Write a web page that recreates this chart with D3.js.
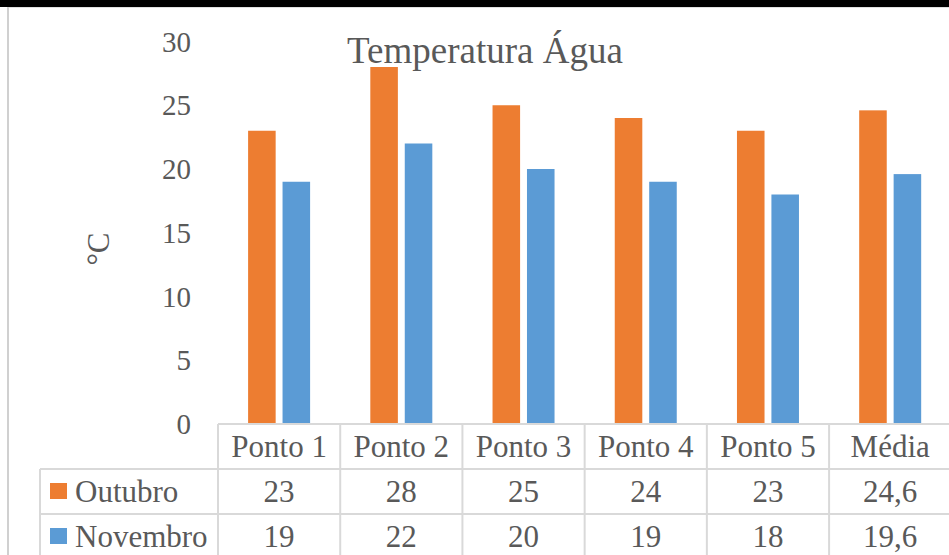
<!DOCTYPE html>
<html>
<head>
<meta charset="utf-8">
<script src="https://cdn.jsdelivr.net/npm/d3@7"></script>
<style>
  body { margin: 0; background: #fff; }
  svg text { font-family: "Liberation Serif", "DejaVu Serif", serif; fill: #595959; }
</style>
</head>
<body>
<div id="chart"></div>
<script>
// Temperatura Água - grouped bars with data table
const categories = ["Ponto 1", "Ponto 2", "Ponto 3", "Ponto 4", "Ponto 5", "Média"];
const seriesNames = ["Outubro", "Novembro"];
const outubro = [23, 28, 25, 24, 23, 24.6];
const novembro = [19, 22, 20, 19, 18, 19.6];
const yTicks = [0, 5, 10, 15, 20, 25, 30];
const colors = ["#ED7D31", "#5B9BD5"];

const width = 949;
const height = 555;
const plotLeft = 218, plotRight = 951.3;
const plotTop = 41.5, plotBottom = 424;
const legendLeft = 40;
const rowH = 45;
const gridColor = "#d9d9d9";

const svg = d3.select("#chart").append("svg")
    .attr("width", width)
    .attr("height", height);

// frame bits from the screenshot
svg.append("rect").attr("x", 0).attr("y", 0).attr("width", width).attr("height", 7).attr("fill", "#000");
svg.append("line").attr("x1", 8).attr("x2", width).attr("y1", 7.5).attr("y2", 7.5)
    .attr("stroke", "#e0e0e0").attr("stroke-width", 1);
svg.append("line").attr("x1", 8).attr("x2", 8).attr("y1", 7).attr("y2", height)
    .attr("stroke", "#d0d0d0").attr("stroke-width", 2);

const x0 = d3.scaleBand()
    .domain(categories)
    .range([plotLeft, plotRight])
    .padding(0);

const x1 = d3.scaleBand()
    .domain(seriesNames)
    .range([30.1, 92.1])
    .paddingInner(0.2);

const y = d3.scaleLinear()
    .domain([0, 30])
    .range([plotBottom, plotTop]);

// y axis labels
svg.append("g")
    .attr("class", "y-axis")
    .selectAll("text")
    .data(yTicks)
    .join("text")
    .attr("x", 191)
    .attr("y", d => y(d) + 10)
    .attr("text-anchor", "end")
    .style("font-size", "29px")
    .text(d => d);

svg.append("text")
    .attr("transform", "translate(109,249) rotate(-90)")
    .attr("text-anchor", "middle")
    .style("font-size", "31px")
    .text("°C");

svg.append("text")
    .attr("x", 485)
    .attr("y", 63)
    .attr("text-anchor", "middle")
    .style("font-size", "37px")
    .text("Temperatura Água");

// bars
const seriesData = [outubro, novembro];
const groups = svg.append("g").attr("class", "bars")
    .selectAll("g")
    .data(categories)
    .join("g")
    .attr("transform", d => `translate(${x0(d)},0)`);

groups.selectAll("rect")
    .data((c, i) => seriesNames.map((s, j) => ({ s, j, v: seriesData[j][i] })))
    .join("rect")
    .attr("x", d => x1(d.s))
    .attr("y", d => y(d.v))
    .attr("width", x1.bandwidth())
    .attr("height", d => plotBottom - y(d.v))
    .attr("fill", d => colors[d.j]);

// data table
const table = svg.append("g").attr("class", "table")
    .attr("stroke", gridColor)
    .attr("stroke-width", 2);

table.append("line")
    .attr("x1", plotLeft).attr("x2", width)
    .attr("y1", plotBottom).attr("y2", plotBottom);
[1, 2].forEach(r => {
    table.append("line")
        .attr("x1", legendLeft).attr("x2", width)
        .attr("y1", plotBottom + r * rowH).attr("y2", plotBottom + r * rowH);
});
table.append("line")
    .attr("x1", legendLeft).attr("x2", legendLeft)
    .attr("y1", plotBottom + rowH).attr("y2", height);
table.selectAll("line.col")
    .data(categories)
    .join("line")
    .attr("class", "col")
    .attr("x1", d => x0(d)).attr("x2", d => x0(d))
    .attr("y1", plotBottom).attr("y2", height);

const cellFont = "31px";

svg.append("g")
    .selectAll("text")
    .data(categories)
    .join("text")
    .attr("x", d => x0(d) + x0.bandwidth() / 2)
    .attr("y", plotBottom + rowH / 2 + 10)
    .attr("text-anchor", "middle")
    .style("font-size", cellFont)
    .text(d => d);

const fmt = v => String(v).replace(".", ",");

seriesNames.forEach((s, j) => {
    const rowY = plotBottom + (j + 1) * rowH;
    svg.append("rect")
        .attr("x", 50).attr("y", rowY + 14)
        .attr("width", 17).attr("height", 16)
        .attr("fill", colors[j]);
    svg.append("text")
        .attr("x", 75)
        .attr("y", rowY + rowH / 2 + 10)
        .style("font-size", cellFont)
        .text(s);
    svg.append("g")
        .selectAll("text")
        .data(seriesData[j])
        .join("text")
        .attr("x", (d, i) => x0(categories[i]) + x0.bandwidth() / 2)
        .attr("y", rowY + rowH / 2 + 10)
        .attr("text-anchor", "middle")
        .style("font-size", cellFont)
        .text(d => fmt(d));
});
</script>
</body>
</html>
